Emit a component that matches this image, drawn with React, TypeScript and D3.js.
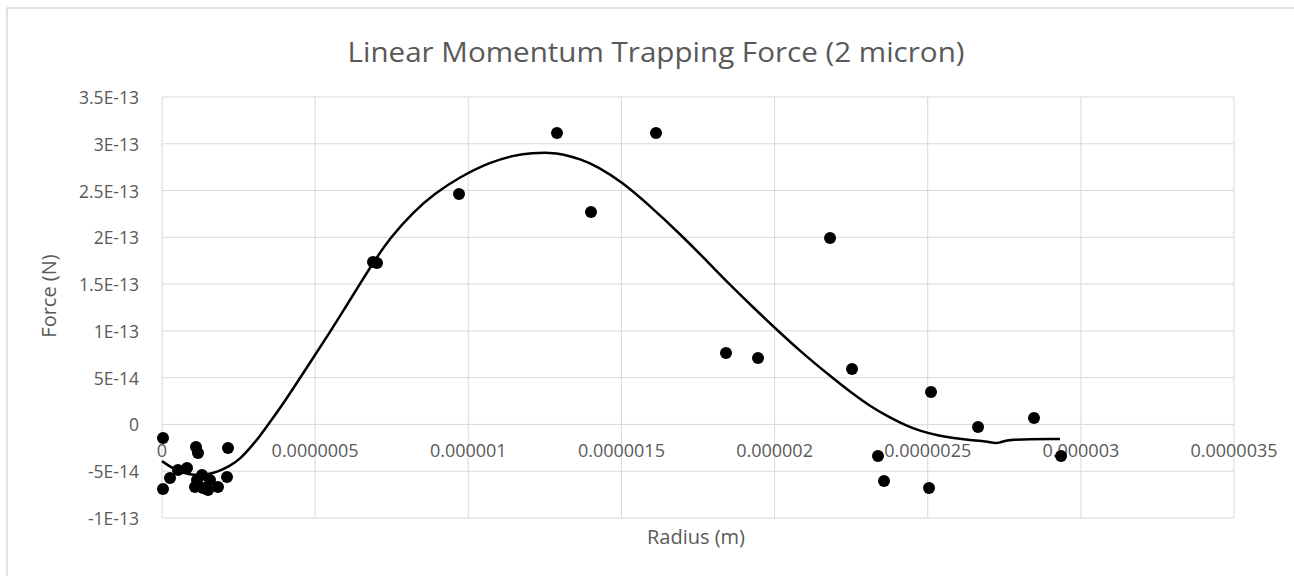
import React from "react";
import * as d3 from "d3";

const title = "Linear Momentum Trapping Force (2 micron)";
const xAxisTitle = "Radius (m)";
const yAxisTitle = "Force (N)";

const xTicks = [0, 5e-7, 1e-6, 1.5e-6, 2e-6, 2.5e-6, 3e-6, 3.5e-6];
const xTickLabels = ["0", "0.0000005", "0.000001", "0.0000015", "0.000002", "0.0000025", "0.000003", "0.0000035"];
const yTicks = [-1e-13, -5e-14, 0, 5e-14, 1e-13, 1.5e-13, 2e-13, 2.5e-13, 3e-13, 3.5e-13];
const yTickLabels = ["-1E-13", "-5E-14", "0", "5E-14", "1E-13", "1.5E-13", "2E-13", "2.5E-13", "3E-13", "3.5E-13"];

// measured points: radius (m), force (N)
const pointX = [
  3.3e-9, 3.3e-9, 1.11e-7, 1.175e-7, 2.155e-7, 2.61e-8, 5.22e-8, 8.16e-8, 1.143e-7, 1.306e-7,
  1.077e-7, 1.339e-7, 1.567e-7, 1.828e-7, 2.122e-7, 1.502e-7, 6.889e-7, 7.02e-7, 9.697e-7, 1.2896e-6,
  1.4007e-6, 1.6129e-6, 1.8414e-6, 1.9459e-6, 2.1811e-6, 2.2529e-6, 2.3377e-6, 2.3573e-6, 2.5043e-6, 2.5108e-6,
  2.6643e-6, 2.8471e-6, 2.9353e-6,
];
const pointY = [
  -1.45e-14, -6.9e-14, -2.42e-14, -3.06e-14, -2.52e-14, -5.73e-14, -4.87e-14, -4.66e-14, -5.94e-14, -5.41e-14,
  -6.69e-14, -6.8e-14, -5.94e-14, -6.69e-14, -5.62e-14, -7.01e-14, 1.736e-13, 1.725e-13, 2.463e-13, 3.114e-13,
  2.27e-13, 3.114e-13, 7.63e-14, 7.1e-14, 1.992e-13, 5.92e-14, -3.38e-14, -6.05e-14, -6.8e-14, 3.46e-14,
  -2.8e-15, 6.8e-15, -3.38e-14,
];

// trend line
const trendX = [
  0, 4.24e-8, 9.14e-8, 1.404e-7, 1.796e-7, 2.22e-7, 2.547e-7, 2.873e-7, 3.2e-7, 3.526e-7,
  4.016e-7, 4.506e-7, 4.995e-7, 5.485e-7, 5.975e-7, 6.465e-7, 6.889e-7, 7.444e-7, 8.195e-7, 8.913e-7,
  9.697e-7, 1.0709e-6, 1.1525e-6, 1.208e-6, 1.2668e-6, 1.3093e-6, 1.3648e-6, 1.4203e-6, 1.5019e-6, 1.5933e-6,
  1.6913e-6, 1.7729e-6, 1.8545e-6, 1.9362e-6, 2.0015e-6, 2.0831e-6, 2.1811e-6, 2.2562e-6, 2.3117e-6, 2.3671e-6,
  2.4259e-6, 2.4749e-6, 2.5402e-6, 2.5826e-6, 2.6381e-6, 2.6936e-6, 2.7132e-6, 2.7361e-6, 2.7589e-6, 2.932e-6,
];
const trendY = [
  -3.92e-14, -4.88e-14, -5.41e-14, -5.41e-14, -5.09e-14, -4.45e-14, -3.7e-14, -2.52e-14, -1.24e-14, 2.6e-15,
  2.5e-14, 4.96e-14, 7.42e-14, 9.88e-14, 1.245e-13, 1.502e-13, 1.726e-13, 1.993e-13, 2.27e-13, 2.47e-13,
  2.64e-13, 2.805e-13, 2.88e-13, 2.9e-13, 2.906e-13, 2.89e-13, 2.836e-13, 2.762e-13, 2.591e-13, 2.335e-13,
  2.036e-13, 1.768e-13, 1.49e-13, 1.233e-13, 1.03e-13, 7.85e-14, 5.18e-14, 3.24e-14, 1.96e-14, 8.9e-15,
  -7e-16, -7.1e-15, -1.24e-14, -1.45e-14, -1.67e-14, -1.83e-14, -1.99e-14, -1.99e-14, -1.56e-14, -1.56e-14,
];

const W = 1294;
const H = 576;
const plot = { left: 162, right: 1234, top: 97, bottom: 518 };
const font = "'Open Sans', 'Noto Sans', sans-serif";
const textColor = "#595959";
const gridColor = "#d9d9d9";

export default function App() {
  const x = d3.scaleLinear().domain([0, 3.5e-6]).range([plot.left, plot.right]);
  const y = d3.scaleLinear().domain([-1e-13, 3.5e-13]).range([plot.bottom, plot.top]);

  const trend = trendX.map((v, i) => [v, trendY[i]] as [number, number]);
  const line = d3
    .line<[number, number]>()
    .x((d) => x(d[0]))
    .y((d) => y(d[1]))
    .curve(d3.curveBasis);

  return (
    <svg
      width={W}
      height={H}
      style={{ position: "absolute", left: 0, top: 0, background: "#fff" }}
      fontFamily={font}
    >
      <rect x={0} y={0} width={W} height={H} fill="#fff" />
      <rect x={7} y={8} width={W + 20} height={H + 20} fill="none" stroke={gridColor} strokeWidth={1.5} />

      {yTicks.map((t, i) => (
        <line key={"gy" + i} x1={plot.left} x2={plot.right} y1={y(t)} y2={y(t)} stroke={gridColor} strokeWidth={1} />
      ))}
      {xTicks.map((t, i) => (
        <line key={"gx" + i} x1={x(t)} x2={x(t)} y1={plot.top} y2={plot.bottom} stroke={gridColor} strokeWidth={1} />
      ))}

      {yTicks.map((t, i) => (
        <text
          key={"ty" + i}
          x={139}
          y={y(t)}
          textAnchor="end"
          dominantBaseline="central"
          fontSize={17.5}
          fill={textColor}
        >
          {yTickLabels[i]}
        </text>
      ))}

      {xTicks.map((t, i) => (
        <text
          key={"tx" + i}
          x={x(t)}
          y={y(0) + 33}
          textAnchor="middle"
          fontSize={18}
          fill={textColor}
        >
          {xTickLabels[i]}
        </text>
      ))}

      <path d={line(trend) || ""} fill="none" stroke="#000" strokeWidth={2.5} strokeLinejoin="round" />

      {pointX.map((v, i) => (
        <circle key={"p" + i} cx={x(v)} cy={y(pointY[i])} r={6} fill="#000" />
      ))}

      <text x={656} y={62} textAnchor="middle" fontSize={28} fill={textColor} textLength={617} lengthAdjust="spacingAndGlyphs">
        {title}
      </text>

      <text x={696} y={544} textAnchor="middle" fontSize={20} fill={textColor}>
        {xAxisTitle}
      </text>
      <text transform={`translate(56, 296) rotate(-90)`} textAnchor="middle" fontSize={20} fill={textColor}>
        {yAxisTitle}
      </text>
    </svg>
  );
}
